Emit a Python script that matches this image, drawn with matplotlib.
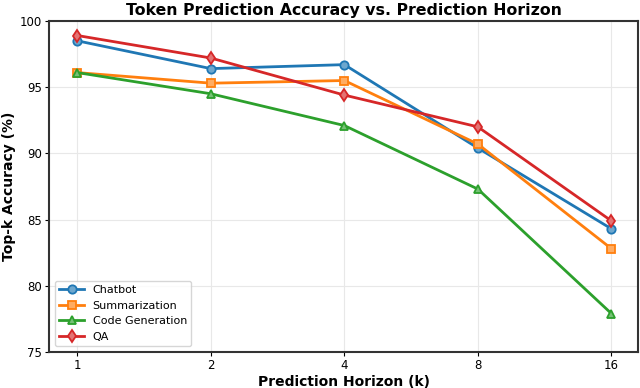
import numpy as np
import matplotlib
matplotlib.use("Agg")
import matplotlib.pyplot as plt
import matplotlib.colors as mcolors

horizons = ["1", "2", "4", "8", "16"]
chatbot = [98.5, 96.4, 96.7, 90.4, 84.3]
summarization = [96.1, 95.3, 95.5, 90.7, 82.8]
code_generation = [96.1, 94.5, 92.1, 87.3, 77.9]
qa = [98.9, 97.2, 94.4, 92.0, 84.9]

series = [
    ("Chatbot", chatbot, "#1f77b4", "o"),
    ("Summarization", summarization, "#ff7f0e", "s"),
    ("Code Generation", code_generation, "#2ca02c", "^"),
    ("QA", qa, "#d62728", "d"),
]


def lighten(color, amount=0.5):
    r, g, b = mcolors.to_rgb(color)
    return (r + (1 - r) * amount, g + (1 - g) * amount, b + (1 - b) * amount)


fig, ax = plt.subplots(figsize=(6.4, 3.88), dpi=100)
x = np.arange(len(horizons))

for name, vals, col, mk in series:
    ax.plot(x, vals, color=col, linewidth=2, marker=mk, markersize=6,
            markerfacecolor=lighten(col, 0.35), markeredgecolor=col,
            markeredgewidth=1.3, label=name)

ax.set_xticks(x)
ax.set_xticklabels(horizons)
ax.set_ylim(75, 100)
ax.set_yticks([75, 80, 85, 90, 95, 100])
ax.set_xlim(-0.21, 4.2)
ax.grid(True, color="#e8e8e8", linewidth=0.8)
ax.set_axisbelow(True)
for s in ax.spines.values():
    s.set_linewidth(1.5)
    s.set_color("#333333")
ax.tick_params(labelsize=8.5, length=3, pad=2)

ax.set_title("Token Prediction Accuracy vs. Prediction Horizon",
             fontsize=11.3, fontweight="bold", pad=4)
ax.set_xlabel("Prediction Horizon (k)", fontsize=10, fontweight="bold", labelpad=2)
ax.set_ylabel("Top-k Accuracy (%)", fontsize=10, fontweight="bold", labelpad=3)
ax.legend(loc="lower left", fontsize=8, handlelength=2.2)

fig.subplots_adjust(left=0.077, right=0.997, top=0.946, bottom=0.093)
fig.savefig("out.png", dpi=100)
